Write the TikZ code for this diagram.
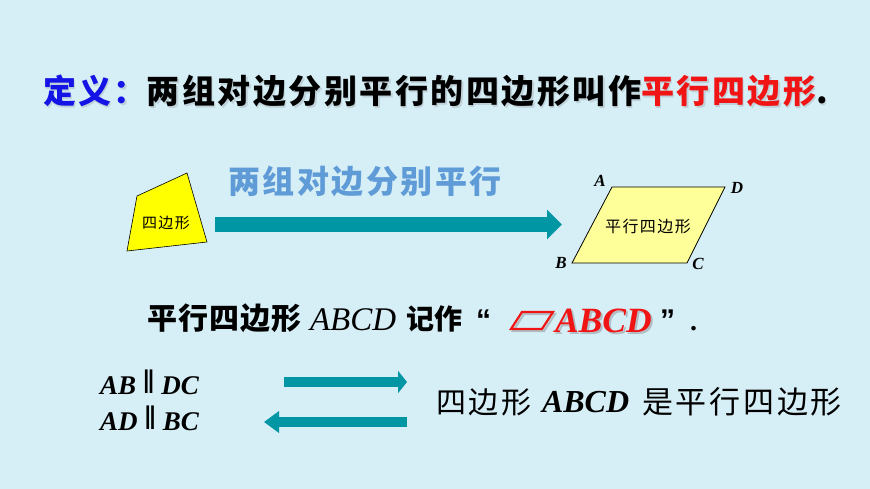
\documentclass[tikz,border=0pt]{standalone}
\usepackage{fontspec}
\setmainfont{Liberation Serif}
\newfontfamily\lsans{Liberation Sans}
\newfontfamily\cjk{Noto Sans CJK SC}
\newfontfamily\cjkA[LetterSpace=7.5]{Noto Sans CJK SC}
\newfontfamily\cjkB[LetterSpace=8]{Noto Sans CJK SC}
\newfontfamily\cjkC[LetterSpace=9]{Noto Sans CJK SC}
\newfontfamily\cjkD[LetterSpace=4]{Noto Sans CJK SC}
\usetikzlibrary{arrows.meta}
\definecolor{bg}{RGB}{214,238,245}
\definecolor{arrowteal}{RGB}{0,150,164}
\definecolor{lblue}{RGB}{95,155,215}
\definecolor{tblue}{RGB}{20,20,230}
\definecolor{tred}{RGB}{240,20,20}
\definecolor{qyellow}{RGB}{255,255,0}
\definecolor{pyellow}{RGB}{255,255,153}
\definecolor{shadowc}{RGB}{150,160,165}
\newcommand{\parsym}{{\fontsize{34}{34}\selectfont\raisebox{1pt}{‖}}}
\tikzset{
  txt/.style={anchor=base west, inner sep=0pt, outer sep=0pt},
  vlabel/.style={inner sep=0pt, font=\bfseries\itshape\fontsize{17}{20}\selectfont},
  bigarrow/.style={arrowteal, line width=15pt, -{Triangle[length=15pt,width=29pt]}},
  smallarrowR/.style={arrowteal, line width=10pt, -{Triangle[length=9pt,width=22pt]}},
  smallarrowL/.style={arrowteal, line width=10pt, -{Triangle[length=15pt,width=21pt]}},
}
\begin{document}
\begin{tikzpicture}[x=1pt,y=-1pt]
\fill[bg] (0,0) rectangle (870,489);
\useasboundingbox (0,0) rectangle (870,489);

% title
\node[txt, opacity=0.35] (titleshadow) at (44.5,105.5) {\cjkA\bfseries\fontsize{33}{38}\selectfont\textcolor{shadowc}{定义：}\textcolor{shadowc}{两组对边分别平行的四边形叫作}\textcolor{shadowc}{平行四边形}\textcolor{shadowc}{.}};
\node[txt] (title) at (43,104) {\cjkA\bfseries\fontsize{33}{38}\selectfont\textcolor{tblue}{定义：}\textcolor{black}{两组对边分别平行的四边形叫作}\textcolor{tred}{平行四边形}\textcolor{black}{.}};

% quadrilateral
\draw[fill=qyellow, line width=0.6pt] (137,196) -- (187,173) -- (207,242) -- (127,251) -- cycle;
\node[inner sep=0pt] (quadlabel) at (166,223) {\cjkC\fontsize{15}{18}\selectfont 四边形};

% big arrow
\node[txt] (arrowlabel) at (228,194) {\cjkB\bfseries\fontsize{32}{36}\selectfont\color{lblue}两组对边分别平行};
\coordinate (bigS) at (215,224.5);
\coordinate (bigE) at (562,224.5);
\draw[bigarrow] (bigS) -- (bigE);

% parallelogram
\draw[fill=pyellow, line width=0.8pt] (612,187) coordinate (pA) -- (725,187) coordinate (pD) -- (687,263) coordinate (pC) -- (572,263) coordinate (pB) -- cycle;
\node[vlabel] (labA) at (600,181) {A};
\node[vlabel] (labD) at (737,188) {D};
\node[vlabel] (labB) at (561,263) {B};
\node[vlabel] (labC) at (698,264) {C};
\node[inner sep=0pt] (plabel) at (648,226) {\cjkC\fontsize{16}{19}\selectfont 平行四边形};

% line 3
\node[txt] (l3a) at (147,329) {\cjkD\bfseries\fontsize{30}{34}\selectfont 平行四边形};
\node[txt] (l3b) at (310,330) {\itshape\fontsize{33}{38}\selectfont ABCD};
\node[txt] (l3c) at (406,329) {\cjk\bfseries\fontsize{28}{32}\selectfont 记作};
\node[txt] (l3q1) at (476,330) {\lsans\bfseries\fontsize{30}{34}\selectfont “};
\draw[shadowc, line width=2.2pt, opacity=0.6] (524,314) -- (555,314) -- (544,331) -- (513,331) -- cycle;
\draw[tred, line width=2.2pt] (522,312) -- (553,312) -- (542,329) -- (511,329) -- cycle;
\node[txt, text=shadowc, opacity=0.6] (l3dshadow) at (557,334) {\bfseries\itshape\fontsize{35.5}{40}\selectfont ABCD};
\node[txt, text=tred] (l3d) at (555,332) {\bfseries\itshape\fontsize{35.5}{40}\selectfont ABCD};
\node[txt] (l3q2) at (660,330) {\lsans\bfseries\fontsize{30}{34}\selectfont ”};
\node[txt] (l3e) at (690,330) {\bfseries\fontsize{28}{32}\selectfont .};

% bottom
\node[txt] (par1) at (100,394) {\bfseries\itshape\fontsize{27}{32}\selectfont AB \parsym{} DC};
\node[txt] (par2) at (100,430) {\bfseries\itshape\fontsize{27}{32}\selectfont AD \parsym{} BC};
\coordinate (r1S) at (284,382);
\coordinate (r1E) at (407,382);
\coordinate (r2S) at (407,422);
\coordinate (r2E) at (264,422);
\draw[smallarrowR] (r1S) -- (r1E);
\draw[smallarrowL] (r2S) -- (r2E);
\node[txt] (btA) at (436,413) {\cjkC\fontsize{30}{34}\selectfont 四边形};
\node[txt] (btB) at (542,412) {\bfseries\itshape\fontsize{32}{36}\selectfont ABCD};
\node[txt] (btC) at (642,413) {\cjkC\fontsize{31}{35}\selectfont 是平行四边形};
\end{tikzpicture}
\end{document}
